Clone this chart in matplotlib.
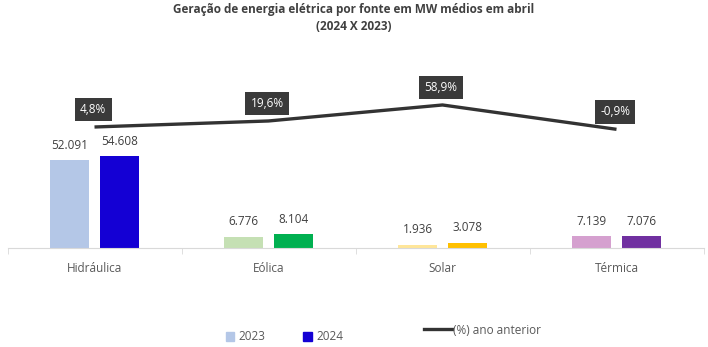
import numpy as np
import matplotlib.pyplot as plt
from matplotlib.patches import Patch
from matplotlib.lines import Line2D

plt.rcParams['font.family'] = ['Open Sans', 'DejaVu Sans']

# ── data ─────────────────────────────────────────────────────────────────────
categories = ["Hidráulica", "Eólica", "Solar", "Térmica"]
gen_2023 = [52091, 6776, 1936, 7139]
gen_2024 = [54608, 8104, 3078, 7076]
pct_change = [4.8, 19.6, 58.9, -0.9]

colors_2023 = ["#B4C7E7", "#C5E0B4", "#FFE699", "#D5A0CF"]
colors_2024 = ["#1400D4", "#00B050", "#FFC000", "#7030A0"]

def br(v):
    return f"{v:,}".replace(",", ".")

# ── figure ───────────────────────────────────────────────────────────────────
W, H = 708, 347
fig = plt.figure(figsize=(W / 100, H / 100), dpi=100)
left, right, bottom, top = 7.5, 703.5, 248, 60
ax = fig.add_axes([left / W, (H - bottom) / H, (right - left) / W, (bottom - top) / H])
ax2 = ax.twinx()

x = np.arange(len(categories))
bw = 0.224
off = 0.1437
ax.bar(x - off, gen_2023, bw, color=colors_2023, zorder=2)
ax.bar(x + off, gen_2024, bw, color=colors_2024, zorder=2)

for xi, v in zip(x - off, gen_2023):
    ax.annotate(br(v), (xi, v), xytext=(0, 6), textcoords="offset points",
                ha="center", va="bottom", fontsize=8.5, color="#404040")
for xi, v in zip(x + off, gen_2024):
    ax.annotate(br(v), (xi, v), xytext=(0, 6), textcoords="offset points",
                ha="center", va="bottom", fontsize=8.5, color="#404040")

ax.set_xlim(-0.5, len(categories) - 0.5)
ax.set_ylim(0, (bottom - top) / 0.001685)

# secondary line (% vs previous year)
ax2.plot(x, pct_change, color="#333333", lw=2.4, solid_capstyle="butt", zorder=3)
ax2.set_ylim(-292.5, 169.4)
for xi, v in zip(x, pct_change):
    ax2.annotate(f"{v:.1f}%".replace(".", ","), (xi, v), xytext=(-1, 12.5),
                 textcoords="offset points", ha="center", va="center",
                 fontsize=8.5, color="white",
                 bbox=dict(boxstyle="square,pad=0.45", fc="#3A3A3A", ec="none"))

for a in (ax, ax2):
    for s in ("top", "right", "left"):
        a.spines[s].set_visible(False)
    a.set_yticks([])
ax.spines["bottom"].set_color("#D9D9D9")
ax2.spines["bottom"].set_visible(False)

ax.set_xticks(x)
ax.set_xticklabels(categories, fontsize=8.5, color="#595959")
ax.tick_params(axis="x", length=0, pad=10)
ax.set_xticks(np.arange(len(categories) + 1) - 0.5, minor=True)
ax.tick_params(axis="x", which="minor", length=4, color="#D9D9D9")

fig.text(0.5, 1 - 10 / H, "Geração de energia elétrica por fonte em MW médios em abril",
         ha="center", va="center", fontsize=8.5, fontweight="bold", color="#404040")
fig.text(0.5, 1 - 26 / H, "(2024 X 2023)",
         ha="center", va="center", fontsize=8.5, fontweight="bold", color="#404040")

bar_handles = [Patch(color="#B4C7E7", label="2023"), Patch(color="#1400D4", label="2024")]
fig.legend(handles=bar_handles, loc="center left", bbox_to_anchor=(215 / W, 1 - 337 / H),
           ncol=2, frameon=False, fontsize=8.5, handlelength=0.7, handleheight=0.7,
           columnspacing=3.2, handletextpad=0.4, labelcolor="#595959")
line_handles = [Line2D([], [], color="#333333", lw=2.4, label="(%) ano anterior")]
fig.legend(handles=line_handles, loc="center left", bbox_to_anchor=(413 / W, 1 - 330 / H),
           frameon=False, fontsize=8.5, handlelength=2.4, handletextpad=0.1,
           labelcolor="#595959")

fig.savefig("out.png", dpi=100, facecolor="white")
